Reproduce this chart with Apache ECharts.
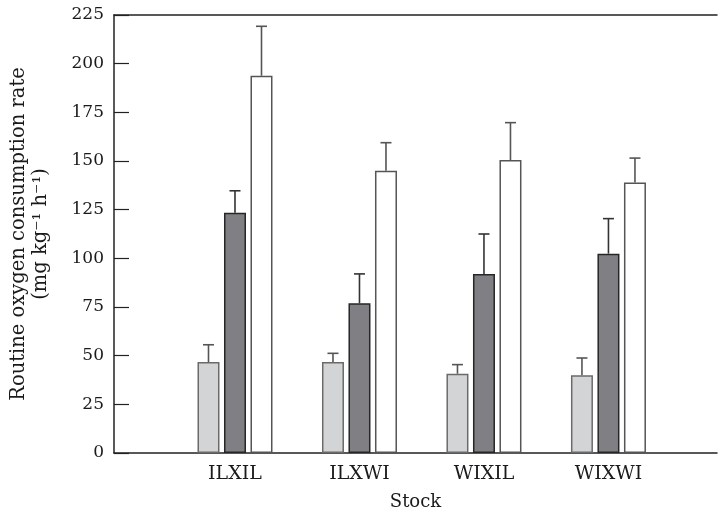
<!DOCTYPE html>
<html><head><meta charset="utf-8">
<script src="https://cdn.jsdelivr.net/npm/echarts@6/dist/echarts.min.js"></script>
<style>html,body{margin:0;padding:0;background:#fff}#c{width:725px;height:516px}</style>
</head><body><div id="c"></div>
<script>
var categories = ['ILXIL', 'ILXWI', 'WIXIL', 'WIXWI'];
var lightMean = [46.7, 46.7, 40.7, 39.9];
var lightUpper = [55.6, 51.2, 45.4, 48.8];
var darkMean = [123.4, 76.9, 92.0, 102.4];
var darkUpper = [134.7, 92.0, 112.5, 120.4];
var whiteMean = [193.8, 145.0, 150.5, 139.0];
var whiteUpper = [219.2, 159.4, 169.7, 151.5];
var yTicks = [0, 225, 25];

var FONT = 'DejaVu Serif';
var BW = 22, GAP = 4.5;

function errSeries(means, uppers, offset, color) {
  return {
    type: 'custom', xAxisIndex: 1, yAxisIndex: 1, z: 1,
    data: means.map(function (m, i) { return [i, m, uppers[i]]; }),
    renderItem: function (params, api) {
      var p0 = api.coord([api.value(0), api.value(1)]);
      var p1 = api.coord([api.value(0), api.value(2)]);
      var x = p0[0] + offset;
      return { type: 'group', children: [
        { type: 'line', shape: { x1: x, y1: p0[1], x2: x, y2: p1[1] }, style: { stroke: color, lineWidth: 1.6 } },
        { type: 'line', shape: { x1: x - 5.5, y1: p1[1], x2: x + 5.5, y2: p1[1] }, style: { stroke: color, lineWidth: 1.6 } }
      ] };
    }
  };
}

var chart = echarts.init(document.getElementById('c'));
chart.setOption({
  animation: false,
  backgroundColor: '#fff',
  textStyle: { fontFamily: FONT },
  grid: [
    { left: 111, right: 8, top: 15, bottom: 63 },
    { left: 172.75, right: 54.3, top: 15, bottom: 63 }
  ],
  xAxis: [
    { type: 'value', gridIndex: 0, min: 0, max: 1, position: 'bottom',
      axisLine: { show: true, onZero: false, lineStyle: { color: '#222', width: 1.5 } },
      axisTick: { show: false }, axisLabel: { show: false }, splitLine: { show: false },
      name: 'Stock', nameLocation: 'middle', nameGap: 40,
      nameTextStyle: { fontFamily: FONT, fontSize: 18, color: '#1a1a1a' } },
    { type: 'category', gridIndex: 1, data: categories,
      axisLine: { show: false }, axisTick: { show: false },
      axisLabel: { fontFamily: FONT, fontSize: 19, color: '#1a1a1a', margin: 12 } },
    { type: 'value', gridIndex: 0, min: 0, max: 1, position: 'top',
      axisLine: { show: true, onZero: false, lineStyle: { color: '#222', width: 1.5 } },
      axisTick: { show: false }, axisLabel: { show: false }, splitLine: { show: false } }
  ],
  yAxis: [
    { type: 'value', gridIndex: 0, min: yTicks[0], max: yTicks[1], interval: yTicks[2],
      axisLine: { show: true, lineStyle: { color: '#222', width: 1.5 } },
      axisTick: { show: true, inside: true, length: 15, lineStyle: { color: '#222', width: 1.2 } },
      axisLabel: { fontFamily: FONT, fontSize: 17, color: '#1a1a1a', margin: 10 },
      splitLine: { show: false },
      name: 'Routine oxygen consumption rate\n(mg kg\u207B\u00B9 h\u207B\u00B9)',
      nameLocation: 'middle', nameRotate: 90, nameGap: 62,
      nameTextStyle: { fontFamily: FONT, fontSize: 19.5, color: '#1a1a1a', lineHeight: 22, align: 'center' } },
    { type: 'value', gridIndex: 1, min: yTicks[0], max: yTicks[1], interval: yTicks[2], show: false }
  ],
  series: [
    { type: 'bar', xAxisIndex: 1, yAxisIndex: 1, data: lightMean, barWidth: BW, barGap: (GAP / BW * 100) + '%', z: 2,
      itemStyle: { color: '#d3d4d6', borderColor: '#6a6a6a', borderWidth: 1.5 } },
    { type: 'bar', xAxisIndex: 1, yAxisIndex: 1, data: darkMean, barWidth: BW, z: 2,
      itemStyle: { color: '#808084', borderColor: '#262626', borderWidth: 1.5 } },
    { type: 'bar', xAxisIndex: 1, yAxisIndex: 1, data: whiteMean, barWidth: BW, z: 2,
      itemStyle: { color: '#ffffff', borderColor: '#555555', borderWidth: 1.5 } },
    errSeries(lightMean, lightUpper, -(BW + GAP), '#555'),
    errSeries(darkMean, darkUpper, 0, '#333'),
    errSeries(whiteMean, whiteUpper, (BW + GAP), '#555')
  ]
});
</script></body></html>
